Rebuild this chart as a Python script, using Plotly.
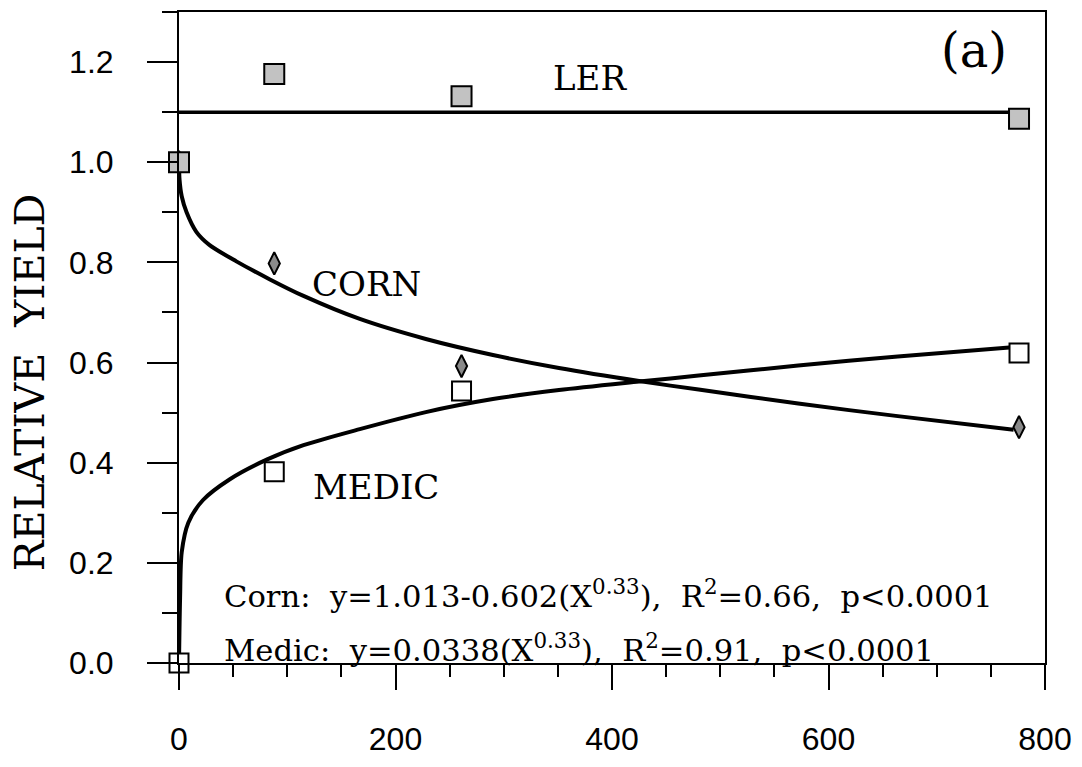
import plotly.graph_objects as go

# ---- data ----
pts_x = [0, 88, 261, 776]
ler_y = [1.0, 1.176, 1.132, 1.087]
corn_y = [1.0, 0.798, 0.593, 0.471]
medic_y = [0.0, 0.382, 0.543, 0.619]

ler_line_x = [0, 770]
ler_line_y = [1.10, 1.10]

corn_curve_x = [0, 0.5, 2.5, 7, 16, 28, 53, 84, 115, 167, 228, 290, 351, 425, 480, 572, 664, 771]
corn_curve_y = [1.0, 0.965, 0.932, 0.900, 0.861, 0.835, 0.802, 0.766, 0.733, 0.687, 0.647, 0.615, 0.589, 0.563, 0.546, 0.518, 0.493, 0.466]

medic_curve_x = [0, 1, 2.5, 8.6, 22, 47, 81, 115, 167, 228, 290, 351, 425, 480, 572, 664, 767]
medic_curve_y = [0.0, 0.13, 0.221, 0.28, 0.325, 0.367, 0.406, 0.435, 0.467, 0.501, 0.527, 0.545, 0.562, 0.574, 0.594, 0.612, 0.630]

x_ticks = [0, 200, 400, 600, 800]
y_ticks = [0.0, 0.2, 0.4, 0.6, 0.8, 1.0, 1.2]
y_tick_labels = ["0.0", "0.2", "0.4", "0.6", "0.8", "1.0", "1.2"]

SERIF = "DejaVu Serif"
SANS = "Liberation Sans"
NB = "\u00a0"

fig = go.Figure()

fig.add_trace(go.Scatter(x=ler_line_x, y=ler_line_y, mode="lines",
                         line=dict(color="black", width=3.5), cliponaxis=False, showlegend=False))
fig.add_trace(go.Scatter(x=corn_curve_x, y=corn_curve_y, mode="lines",
                         line=dict(color="black", width=4, shape="spline", smoothing=0.8),
                         cliponaxis=False, showlegend=False))
fig.add_trace(go.Scatter(x=medic_curve_x, y=medic_curve_y, mode="lines",
                         line=dict(color="black", width=4, shape="spline", smoothing=0.8),
                         cliponaxis=False, showlegend=False))

fig.add_trace(go.Scatter(x=pts_x, y=corn_y, mode="markers", name="Corn",
                         marker=dict(symbol="diamond-tall", size=16, color="#8a8a8a",
                                     line=dict(color="black", width=2)),
                         cliponaxis=False, showlegend=False))
fig.add_trace(go.Scatter(x=pts_x, y=medic_y, mode="markers", name="Medic",
                         marker=dict(symbol="square", size=19, color="white",
                                     line=dict(color="black", width=2)),
                         cliponaxis=False, showlegend=False))
fig.add_trace(go.Scatter(x=pts_x, y=ler_y, mode="markers", name="LER",
                         marker=dict(symbol="square", size=20, color="#c2c2c2",
                                     line=dict(color="black", width=2)),
                         cliponaxis=False, showlegend=False))

fig.update_xaxes(range=[0, 800], tickvals=x_ticks, ticktext=[str(v) for v in x_ticks],
                 ticks="outside", ticklen=25, tickwidth=2, tickcolor="black",
                 minor=dict(dtick=50, tick0=0, ticks="outside", ticklen=12, tickwidth=2, tickcolor="black"),
                 showline=True, linewidth=2, linecolor="black", mirror=True,
                 showgrid=False, zeroline=False,
                 tickfont=dict(family=SANS, size=32, color="black"), ticklabelstandoff=22)
fig.update_yaxes(range=[0, 1.3], tickvals=y_ticks, ticktext=y_tick_labels,
                 ticks="outside", ticklen=30, tickwidth=2, tickcolor="black",
                 minor=dict(dtick=0.1, tick0=0, ticks="outside", ticklen=15, tickwidth=2, tickcolor="black"),
                 showline=True, linewidth=2, linecolor="black", mirror=True,
                 showgrid=False, zeroline=False,
                 tickfont=dict(family=SANS, size=32, color="black"), ticklabelstandoff=27)

SP = NB * 2
ann = [
    dict(x=380, y=1.169, text="LER", font=dict(family=SERIF, size=34)),
    dict(x=173, y=0.756, text="CORN", font=dict(family=SERIF, size=34)),
    dict(x=182, y=0.351, text="MEDIC", font=dict(family=SERIF, size=34)),
    dict(x=734, y=1.225, text="(a)", font=dict(family=SERIF, size=48)),
    dict(x=40, y=0.137, xanchor="left",
         text="Corn:" + SP + "y=1.013-0.602(X<sup>0.33</sup>)," + SP + "R<sup>2</sup>=0.66," + SP + "p<0.0001",
         font=dict(family=SERIF, size=30.6)),
    dict(x=40, y=0.03, xanchor="left",
         text="Medic:" + SP + "y=0.0338(X<sup>0.33</sup>)," + SP + "R<sup>2</sup>=0.91," + SP + "p<0.0001",
         font=dict(family=SERIF, size=30.6)),
]
for a in ann:
    a.setdefault("xanchor", "center")
    a["font"]["color"] = "black"
    fig.add_annotation(xref="x", yref="y", showarrow=False, yanchor="middle", **a)

fig.add_annotation(xref="paper", yref="paper", x=-0.171, y=0.431, text="RELATIVE" + NB * 2 + "YIELD",
                   textangle=-90, showarrow=False, xanchor="center", yanchor="middle",
                   font=dict(family=SERIF, size=41, color="black"))

fig.update_layout(width=1082, height=767, margin=dict(l=179, r=34, t=10, b=86),
                  paper_bgcolor="white", plot_bgcolor="white")

fig.write_html("out.html")
